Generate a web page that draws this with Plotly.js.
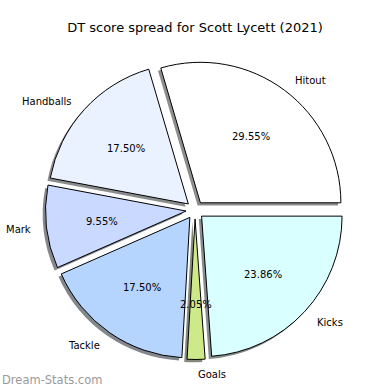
<!DOCTYPE html>
<html>
<head>
<meta charset="utf-8">
<script src="https://cdn.plot.ly/plotly-3.0.1.min.js"></script>
<style>html,body{margin:0;padding:0;background:#fff;}#chart{width:390px;height:390px;}</style>
</head>
<body>
<div id="chart"></div>
<script>
// ---- data ----
const categories = ['Hitout', 'Handballs', 'Mark', 'Tackle', 'Goals', 'Kicks'];
const shares = [29.55, 17.50, 9.55, 17.50, 2.05, 23.86];
const titleText = 'DT score spread for Scott Lycett (2021)';
const watermark = 'Dream-Stats.com';

// ---- style ----
const sliceColors = ['#ffffff', '#eaf1ff', '#c9d9ff', '#b5d5ff', '#cde98a', '#d9ffff'];
const W = 390, H = 390;
const CXpx = 195, CYpx = 210, Rpx = 140.5, PULL = 0.064;
const SHADOW = 2.8; // px offset, down-left
const FONT = 'DejaVu Sans, sans-serif';

function shadowColor(hex) {
  const c = [1, 3, 5].map(i => parseInt(hex.substr(i, 2), 16));
  const s = c.map(v => Math.round(0.15 * v + 127.5 - 25));
  return 'rgb(' + s.join(',') + ')';
}

const half = Rpx * (1 + PULL);
function domainFor(dx, dy) {
  return {
    x: [(CXpx + dx - half) / W, (CXpx + dx + half) / W],
    y: [1 - (CYpx + dy + half) / H, 1 - (CYpx + dy - half) / H]
  };
}

const total = shares.reduce((a, b) => a + b, 0);
// first slice starts at 3 o'clock and runs counter-clockwise (plotly puts the first slice's far edge at `rotation`)
const rotation = 90 - 360 * shares[0] / total;
const pulls = categories.map(() => PULL);

const shadowTrace = {
  type: 'pie', values: shares, labels: categories, sort: false,
  direction: 'counterclockwise', rotation: rotation, pull: pulls,
  marker: { colors: sliceColors.map(shadowColor), line: { width: 0 } },
  textinfo: 'none', hoverinfo: 'none', showlegend: false,
  domain: domainFor(-SHADOW, SHADOW)
};
const pieTrace = {
  type: 'pie', values: shares, labels: categories, sort: false,
  direction: 'counterclockwise', rotation: rotation, pull: pulls,
  marker: { colors: sliceColors, line: { color: '#000000', width: 1 } },
  textinfo: 'none', hoverinfo: 'none', showlegend: false,
  domain: domainFor(0, 0)
};

// labels and percentages placed like matplotlib (1.1R and 0.6R from exploded centre)
const annotations = [];
let cum = 0;
shares.forEach((v, i) => {
  const mid = (cum + v / 2) / total * 2 * Math.PI;
  cum += v;
  const cx = Math.cos(mid), sy = Math.sin(mid);
  const ex = CXpx + PULL * Rpx * cx, ey = CYpx - PULL * Rpx * sy;
  const lx = ex + 1.1 * Rpx * cx, ly = ey - 1.1 * Rpx * sy;
  const px = ex + 0.6 * Rpx * cx, py = ey - 0.6 * Rpx * sy;
  annotations.push({
    xref: 'paper', yref: 'paper', x: lx / W, y: 1 - ly / H, yshift: -1,
    text: categories[i], showarrow: false,
    xanchor: cx > 0 ? 'left' : 'right', yanchor: 'middle',
    font: { family: FONT, size: 10, color: '#000' }
  });
  annotations.push({
    xref: 'paper', yref: 'paper', x: px / W, y: 1 - py / H, yshift: -1,
    text: v.toFixed(2) + '%', showarrow: false,
    xanchor: 'center', yanchor: 'middle',
    font: { family: FONT, size: 10, color: '#000' }
  });
});
annotations.push({
  xref: 'paper', yref: 'paper', x: 0, y: 1 - 380 / H,
  text: watermark, showarrow: false, xanchor: 'left', yanchor: 'middle',
  font: { family: FONT, size: 11.5, color: '#9a9a9a' }
});

const layout = {
  width: W, height: H,
  margin: { l: 0, r: 0, t: 0, b: 0 },
  paper_bgcolor: '#ffffff',
  title: {
    text: titleText, x: 0.5, xanchor: 'center', y: 1 - 27 / H, yanchor: 'middle',
    yref: 'container', font: { family: FONT, size: 13, color: '#000' }
  },
  annotations: annotations,
  showlegend: false
};

Plotly.newPlot('chart', [shadowTrace, pieTrace], layout, { staticPlot: true, displayModeBar: false });
</script>
</body>
</html>
